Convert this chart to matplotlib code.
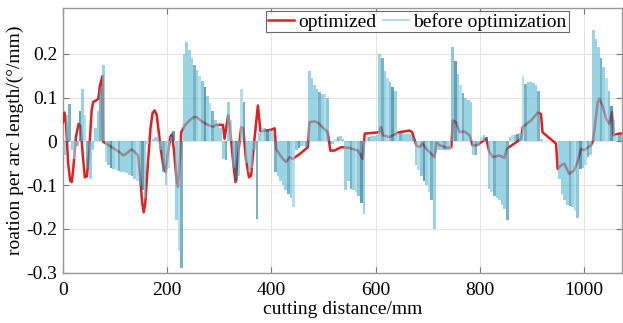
import numpy as np
import matplotlib
matplotlib.use("Agg")
import matplotlib.pyplot as plt
from matplotlib.lines import Line2D

plt.rcParams["font.family"] = ["Liberation Serif", "DejaVu Serif"]
plt.rcParams["axes.unicode_minus"] = False

# ── optimized curve (x in mm, rotation per arc length) ─────────────────────
opt_x = [0, 3, 6, 10, 14, 17, 20, 25, 30, 34, 38, 42, 46, 50, 55, 58, 64, 68, 71, 76,
         77, 80, 90, 100, 109, 116, 124, 131, 138, 144, 148, 152, 155, 158, 163, 168,
         172, 176, 180, 184, 188, 193, 197, 201, 206, 209, 213, 218, 221, 224, 227,
         234, 243, 250, 256, 262, 269, 278, 288, 294, 307, 310, 317, 320, 326, 331,
         336, 342, 346, 351, 357, 361, 367, 374, 379, 390, 400, 406, 409, 416, 422,
         428, 435, 441, 455, 470, 473, 483, 490, 500, 508, 513, 521, 534, 550, 566,
         575, 579, 598, 607, 610, 614, 626, 645, 665, 670, 678, 684, 690, 697, 713,
         716, 723, 738, 745, 748, 754, 761, 770, 780, 786, 796, 802, 812, 818, 825,
         837, 847, 851, 879, 882, 898, 911, 917, 920, 946, 949, 955, 962, 971, 981,
         987, 994, 1000, 1013, 1017, 1026, 1029, 1035, 1042, 1048, 1053, 1056, 1067,
         1073]
opt_y = [0.044, 0.066, 0.04, -0.05, -0.09, -0.093, -0.06, 0.01, 0.04, 0.035, -0.03,
         -0.082, -0.08, -0.03, 0.07, 0.09, 0.094, 0.098, 0.128, 0.15,
         0.0, -0.003, -0.01, -0.018, -0.025, -0.032, -0.026, -0.018, -0.024, -0.032,
         -0.08, -0.14, -0.162, -0.14, -0.05, 0.03,
         0.065, 0.071, 0.06, 0.02, -0.02, -0.06, -0.07, -0.03, 0.01, 0.016, -0.02,
         -0.09, -0.104, -0.05, 0.021,
         0.037, 0.048, 0.055, 0.056, 0.05, 0.044, 0.038, 0.033, 0.038, 0.038, 0.006,
         0.06, 0.037, -0.04, -0.093,
         -0.03, 0.033, 0.03, -0.04, -0.082, -0.078, 0.0, 0.082, 0.023, 0.025, 0.027,
         0.03, -0.017, -0.03, -0.04,
         -0.047, -0.036, -0.04, -0.028, -0.013, 0.044, 0.046, 0.042, 0.03, 0.021,
         -0.021, -0.021, -0.013, -0.015, -0.021,
         -0.04, 0.018, 0.02, 0.021, 0.033, 0.014, 0.01, 0.021, 0.025, 0.021, -0.009,
         -0.013, -0.005, -0.017, -0.036,
         -0.002, -0.009, -0.015, -0.013, 0.048, 0.044, 0.021, 0.023, 0.014, -0.009,
         -0.008, -0.002, 0.006, -0.024, -0.036,
         -0.032, -0.038, -0.017, 0.006, 0.033, 0.048, 0.066, 0.063, 0.021, -0.005,
         -0.063, -0.055, -0.051, -0.074, -0.066,
         -0.047, -0.017, -0.02, -0.009, 0.002, 0.09, 0.098, 0.082, 0.052, 0.04, 0.067,
         0.014, 0.018,
         0.018]

# ── before optimization, one bar every 5 mm ────────────────────────────────
before_x = list(range(0, 1075, 5))
before_y = [
    -0.03, 0.06, 0.085, -0.02, -0.04, -0.01, 0.07, 0.12, 0.06, -0.06,          # 0-45
    -0.085, -0.02, 0.03, 0.07, 0.12, 0.175, -0.047, -0.055, -0.06, -0.063,     # 50-95
    -0.066, -0.068, -0.07, -0.071, -0.073, -0.076, -0.08, -0.085, -0.09, -0.1,  # 100-145
    -0.112, -0.13, -0.005, 0.0, 0.005, 0.01, 0.015, -0.02, -0.07, -0.1,        # 150-195
    -0.06, 0.01, 0.025, -0.18, -0.25, -0.29, 0.2, 0.227, 0.21, 0.19,           # 200-245
    0.175, 0.163, 0.15, 0.138, 0.125, 0.105, 0.088, 0.07, 0.05, 0.04,          # 250-295
    0.03, -0.04, -0.043, 0.09, 0.05, -0.06, -0.09, -0.08, 0.12, 0.09,          # 300-345
    -0.05, -0.07, -0.06, -0.02, -0.177, 0.02, 0.03, 0.03, 0.028, 0.027,        # 350-395
    0.025, -0.07, -0.08, -0.09, -0.1, -0.11, -0.12, -0.13, -0.15, -0.02,       # 400-445
    -0.015, -0.01, -0.01, -0.012, 0.16, 0.145, 0.13, 0.12, 0.113, 0.108,       # 450-495
    0.109, 0.1, -0.005, -0.005, 0.005, 0.01, 0.012, 0.005, -0.112, -0.09,      # 500-545
    -0.108, -0.11, -0.115, -0.125, -0.14, -0.165, 0.01, 0.01, 0.012, 0.012,    # 550-595
    0.015, 0.2, 0.19, 0.16, 0.145, 0.135, 0.125, 0.115, 0.02, 0.02,            # 600-645
    0.02, 0.018, 0.018, 0.016, 0.01, -0.055, -0.065, -0.08, -0.09, -0.1,       # 650-695
    -0.115, -0.135, -0.2, -0.02, -0.02, -0.02, -0.02, -0.02, -0.02, 0.216,     # 700-745
    0.185, 0.155, 0.13, 0.11, 0.1, 0.095, 0.09, -0.032, -0.03, -0.01,          # 750-795
    0.01, 0.015, 0.01, -0.108, -0.115, -0.124, -0.13, -0.135, -0.145, -0.155,  # 800-845
    -0.18, 0.01, 0.015, 0.015, 0.018, 0.02, 0.15, 0.132, 0.135, 0.136,         # 850-895
    0.133, 0.128, 0.115, 0.005, 0.0, 0.0, 0.0, 0.0, 0.0, 0.0,                  # 900-945
    -0.085, -0.12, -0.135, -0.145, -0.148, -0.15, -0.16, -0.175, -0.063, -0.06, # 950-995
    -0.055, -0.035, -0.032, 0.254, 0.235, 0.215, 0.19, 0.17, 0.145, 0.115,     # 1000-1045
    0.08, 0.05, 0.015, 0.015, 0.015,                                           # 1050-1070
]

x_ticks = [0, 200, 400, 600, 800, 1000]
y_ticks = [-0.3, -0.2, -0.1, 0, 0.1, 0.2]
y_tick_labels = ["-0.3", "-0.2", "-0.1", "0", "0.1", "0.2"]

# ── figure ─────────────────────────────────────────────────────────────────
fig = plt.figure(figsize=(6.23, 3.23), dpi=100)
ax = fig.add_axes([0.101, 0.156, 0.897, 0.819])

ax.plot(opt_x, opt_y, color="#e02020", lw=1.8, zorder=3)

shades = ["#6bbed5", "#6bbed5", "#3c8fab", "#6bbed5", "#8fd0e2", "#5aaec8",
          "#1f6f8c", "#6bbed5", "#8fd0e2", "#3c8fab", "#6bbed5", "#6bbed5"]
bar_cols = [shades[i % len(shades)] for i in range(len(before_x))]
ax.bar(before_x, before_y, width=5, align="edge", color=bar_cols,
       alpha=0.68, linewidth=0, antialiased=False, zorder=4)

ax.set_xlim(0, 1072)
ax.set_ylim(-0.3, 0.305)
ax.set_xticks(x_ticks)
ax.set_yticks(y_ticks)
ax.set_yticklabels(y_tick_labels)
ax.tick_params(labelsize=14, direction="in", length=4, color="#777777",
               top=True, right=True)
ax.tick_params(axis="x", pad=7)
ax.tick_params(axis="y", pad=4)
ax.grid(True, color="#e3e3e3", lw=0.8, zorder=0)
ax.set_axisbelow(True)
for s in ax.spines.values():
    s.set_color("#999999")
    s.set_linewidth(1.0)

ax.set_xlabel("cutting distance/mm", fontsize=14, labelpad=1)
ax.set_ylabel("roation per arc length/(°/mm)", fontsize=14, labelpad=2)

handles = [Line2D([], [], color="#e02020", lw=1.8),
           Line2D([], [], color="#9fd3e2", lw=1.2)]
leg = ax.legend(handles, ["optimized", "before optimization"], ncol=2,
                loc="upper right", bbox_to_anchor=(0.905, 0.99), fontsize=14,
                frameon=True, fancybox=False, handlelength=1.3, handletextpad=0.25,
                columnspacing=0.35, borderpad=0.1, borderaxespad=0)
leg.get_frame().set_edgecolor("#444444")
leg.get_frame().set_linewidth(0.8)
leg.set_zorder(6)

fig.savefig("out.png", dpi=100)
